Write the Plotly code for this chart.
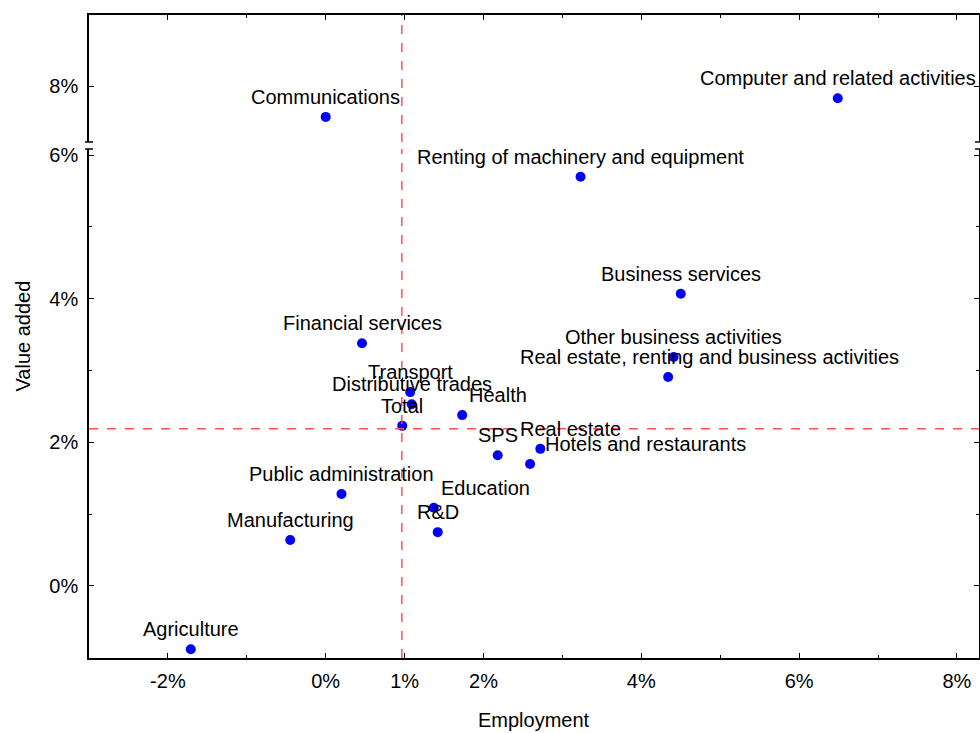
import plotly.graph_objects as go

# sectors: employment growth (x, %) and value added growth (y, %)
sectors = [
    "Computer and related activities", "Communications",
    "Renting of machinery and equipment", "Business services",
    "Other business activities", "Real estate, renting and business activities",
    "Financial services", "Transport", "Distributive trades", "Total",
    "Health", "SPS", "Real estate", "Hotels and restaurants",
    "Public administration", "Education", "R&D", "Manufacturing", "Agriculture",
]
employment = [6.49, 0.00, 3.23, 4.50, 4.41, 4.34, 0.46, 1.07, 1.09, 0.97,
              1.73, 2.18, 2.72, 2.59, 0.20, 1.37, 1.42, -0.45, -1.71]
value_added = [7.83, 7.57, 5.70, 4.07, 3.19, 2.91, 3.38, 2.70, 2.53, 2.23,
               2.38, 1.82, 1.91, 1.70, 1.28, 1.09, 0.75, 0.64, -0.88]

total_emp = 0.965
total_va = 2.19

x_ticks = [-2, 0, 1, 2, 4, 6, 8]
x_ticktext = ["-2%", "0%", "1%", "2%", "4%", "6%", "8%"]
y_ticks = [0, 2, 4, 6]
y_ticktext = ["0%", "2%", "4%", "6%"]

# label offsets in pixels (only where the label is not centred above its point)
label_dx = {
    "Real estate, renting and business activities": 41,
    "Health": 36,
    "Real estate": 30,
    "Hotels and restaurants": 115,
    "Education": 52,
}

BREAK = 6.5
FONT = "Liberation Sans, Arial, sans-serif"
FS = 20
low_top, up_bottom = 0.7916, 0.8025

fig = go.Figure()

low = [i for i, v in enumerate(value_added) if v < BREAK]
up = [i for i, v in enumerate(value_added) if v >= BREAK]

fig.add_trace(go.Scatter(
    x=[employment[i] for i in low], y=[value_added[i] for i in low],
    mode="markers", marker=dict(color="#0000FF", size=10),
    xaxis="x", yaxis="y", showlegend=False,
))
fig.add_trace(go.Scatter(
    x=[employment[i] for i in up], y=[value_added[i] for i in up],
    mode="markers", marker=dict(color="#0000FF", size=10),
    xaxis="x2", yaxis="y2", showlegend=False,
))

for i, name in enumerate(sectors):
    upper = value_added[i] >= BREAK
    fig.add_annotation(
        x=employment[i], y=value_added[i], text=name,
        xref="x2" if upper else "x", yref="y2" if upper else "y",
        showarrow=False, xshift=label_dx.get(name, 0), yshift=20,
        font=dict(size=FS, color="black", family=FONT),
    )

# axis titles
fig.add_annotation(x=0.5, y=0, xref="paper", yref="paper",
                   xanchor="center", yanchor="middle", yshift=-62,
                   text="Employment", showarrow=False,
                   font=dict(size=FS, color="black", family=FONT))
fig.add_annotation(x=0, y=0.5, xref="paper", yref="paper",
                   xanchor="center", yanchor="middle", xshift=-67,
                   text="Value added", textangle=-90, showarrow=False,
                   font=dict(size=FS, color="black", family=FONT))

dash_line = dict(color="#FF5050", width=1.5, dash="dash")
fig.add_shape(type="line", xref="x", yref="y", x0=total_emp, x1=total_emp,
              y0=-1.003, y1=6.086, line=dash_line)
fig.add_shape(type="line", xref="x2", yref="y2", x0=total_emp, x1=total_emp,
              y0=7.22, y1=8.99, line=dash_line)
fig.add_shape(type="line", xref="paper", yref="y", x0=0, x1=1,
              y0=total_va, y1=total_va, line=dash_line)

# axis break marks
for xa in (0, 1):
    for yb in (low_top, up_bottom):
        fig.add_shape(type="line", xref="paper", yref="paper",
                      xsizemode="pixel", xanchor=xa, x0=-4, x1=4,
                      y0=yb, y1=yb, line=dict(color="black", width=1.5))

axis_style = dict(
    showline=True, linecolor="black", linewidth=1.5,
    ticks="inside", ticklen=5, tickcolor="black", tickwidth=1,
    showgrid=False, zeroline=False, automargin=False,
    tickfont=dict(size=FS, color="black", family=FONT),
)
minor_x = dict(tickvals=[-1, 3, 5, 7], ticks="inside", ticklen=3,
               tickcolor="black")

fig.update_layout(
    width=980, height=733,
    margin=dict(l=89, r=1, t=15, b=75),
    paper_bgcolor="white", plot_bgcolor="white",
    font=dict(family=FONT, size=FS, color="black"),
    xaxis=dict(
        axis_style, anchor="y", range=[-3.0, 8.28],
        tickvals=x_ticks, ticktext=x_ticktext, minor=minor_x,
        ticklabelstandoff=4,
    ),
    xaxis2=dict(
        axis_style, anchor="y2", side="top", matches="x",
        range=[-3.0, 8.28], tickvals=x_ticks, showticklabels=False,
        minor=minor_x,
    ),
    yaxis=dict(
        axis_style, anchor="x", domain=[0, low_top], range=[-1.003, 6.086],
        mirror="ticks", tickvals=y_ticks, ticktext=y_ticktext,
        minor=dict(tickvals=[1, 3, 5], ticks="inside", ticklen=3,
                   tickcolor="black"),
        ticklabelstandoff=5,
    ),
    yaxis2=dict(
        axis_style, anchor="x2", domain=[up_bottom, 1], range=[7.22, 8.99],
        mirror="ticks", tickvals=[8], ticktext=["8%"],
        ticklabelstandoff=5,
    ),
)

fig.write_html(
    "out.html",
    config={"displayModeBar": False},
    post_script="document.body.style.margin='0';document.body.style.overflow='hidden';",
)
